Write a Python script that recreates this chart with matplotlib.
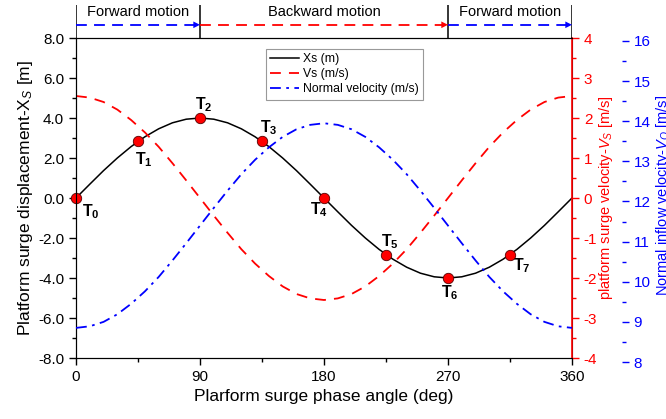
import numpy as np
import matplotlib.pyplot as plt

plt.rcParams['font.family'] = ['Liberation Sans', 'DejaVu Sans']
plt.rcParams['mathtext.fontset'] = 'custom'
plt.rcParams['mathtext.rm'] = 'Liberation Sans'
plt.rcParams['mathtext.it'] = 'Liberation Sans:italic'
plt.rcParams['mathtext.bf'] = 'Liberation Sans:bold'
plt.rcParams['axes.unicode_minus'] = False

# phase angle (deg), every 10 deg over one surge cycle
phase = list(range(0, 361, 10))

# platform surge displacement Xs (m)
xs = [0.00, 0.69, 1.37, 2.00, 2.57, 3.06, 3.46, 3.76, 3.94, 4.00,
      3.94, 3.76, 3.46, 3.06, 2.57, 2.00, 1.37, 0.69, 0.00,
      -0.69, -1.37, -2.00, -2.57, -3.06, -3.46, -3.76, -3.94, -4.00,
      -3.94, -3.76, -3.46, -3.06, -2.57, -2.00, -1.37, -0.69, 0.00]

# platform surge velocity Vs (m/s)
vs = [2.55, 2.51, 2.40, 2.21, 1.95, 1.64, 1.28, 0.87, 0.44, 0.00,
      -0.44, -0.87, -1.28, -1.64, -1.95, -2.21, -2.40, -2.51, -2.55,
      -2.51, -2.40, -2.21, -1.95, -1.64, -1.28, -0.87, -0.44, 0.00,
      0.44, 0.87, 1.28, 1.64, 1.95, 2.21, 2.40, 2.51, 2.55]

# normal inflow velocity (m/s)
vn = [8.85, 8.89, 9.00, 9.19, 9.45, 9.76, 10.12, 10.53, 10.96, 11.40,
      11.84, 12.27, 12.68, 13.04, 13.35, 13.61, 13.80, 13.91, 13.95,
      13.91, 13.80, 13.61, 13.35, 13.04, 12.68, 12.27, 11.84, 11.40,
      10.96, 10.53, 10.12, 9.76, 9.45, 9.19, 9.00, 8.89, 8.85]

# instants T0..T7
t_phase = [0, 45, 90, 135, 180, 225, 270, 315]
t_xs = [0.00, 2.83, 4.00, 2.83, 0.00, -2.83, -4.00, -2.83]
t_names = ['T_0', 'T_1', 'T_2', 'T_3', 'T_4', 'T_5', 'T_6', 'T_7']
t_offsets = [(15, -14), (6, -18), (4, 13), (7, 14), (-5, -12), (4, 13), (2, -15), (12, -11)]

RED = '#ff0000'
BLUE = '#0000ff'

fig = plt.figure(figsize=(6.66, 4.19), dpi=100)
L, W = 76 / 666, 496 / 666
ax = fig.add_axes([L, 61 / 419, W, 320 / 419])

line_x, = ax.plot(phase, xs, color='black', lw=1.1, label='Xs (m)')
ax.plot(t_phase, t_xs, 'o', color=RED, mec='#550000', mew=0.6, ms=7.5, zorder=5, clip_on=False)
for p, v, name, (dx, dy) in zip(t_phase, t_xs, t_names, t_offsets):
    ax.annotate(r'$\mathbf{%s}$' % name, (p, v), xytext=(dx, dy), textcoords='offset pixels',
                ha='center', va='center', fontsize=11.5)

ax.set_xlim(0, 360)
ax.set_ylim(-8, 8)
ax.set_xticks([0, 90, 180, 270, 360])
ax.set_xticks([45, 135, 225, 315], minor=True)
ax.set_yticks(np.arange(-8, 8.1, 2))
ax.set_yticks(np.arange(-7, 8, 2), minor=True)
ax.yaxis.set_major_formatter(plt.FormatStrFormatter('%.1f'))
ax.tick_params(which='both', direction='out', labelsize=11, width=1)
ax.tick_params(which='major', length=5)
ax.tick_params(which='minor', length=3)
ax.set_xlabel('Plarform surge phase angle (deg)', fontsize=12.5, labelpad=4)
ax.set_ylabel('Platform surge displacement-X$_S$ [m]', fontsize=12.5, labelpad=2)

# surge velocity on a red right axis
ax2 = ax.twinx()
line_v, = ax2.plot(phase, vs, color=RED, lw=1.3, dashes=(6, 4.5), label='Vs (m/s)')
ax2.set_ylim(-4, 4)
ax2.set_yticks(np.arange(-4, 5, 1))
ax2.set_yticks(np.arange(-3.5, 4, 1), minor=True)
ax2.spines['right'].set_color(RED)
ax2.spines['right'].set_linewidth(1.2)
ax2.tick_params(axis='y', which='both', colors=RED, direction='out', labelsize=11, width=1)
ax2.tick_params(axis='y', which='major', length=5)
ax2.tick_params(axis='y', which='minor', length=3)
ax2.set_ylabel('platform surge velocity-$V_S$ [m/s]', color=RED, fontsize=10.5, labelpad=0)

# normal inflow velocity on an offset blue axis
ax3 = fig.add_axes([L, 57 / 419, W, 321 / 419], frameon=False)
line_n, = ax3.plot(phase, vn, color=BLUE, lw=1.3, dashes=(6, 3, 1.5, 3), label='Normal velocity (m/s)')
ax3.set_xlim(0, 360)
ax3.set_ylim(8, 16)
ax3.xaxis.set_visible(False)
ax3.yaxis.tick_right()
ax3.yaxis.set_label_position('right')
ax3.spines['right'].set_visible(True)
ax3.spines['right'].set_position(('axes', 1.1))
ax3.spines['right'].set_color(BLUE)
ax3.spines['right'].set_linewidth(1.2)
ax3.set_yticks(np.arange(8, 17, 1))
ax3.set_yticks(np.arange(8.5, 16, 1), minor=True)
ax3.tick_params(axis='y', which='both', colors=BLUE, direction='out', labelsize=11, width=1)
ax3.tick_params(axis='y', which='major', length=5)
ax3.tick_params(axis='y', which='minor', length=3)
ax3.set_ylabel('Normal inflow velocity-$V_O$ [m/s]', color=BLUE, fontsize=10.5, labelpad=2)
ax3.yaxis.set_label_coords(1.166, 0.52)

leg = ax.legend(handles=[line_x, line_v, line_n], loc='upper left', bbox_to_anchor=(0.37, 0.985),
                fontsize=8.8, fancybox=False, edgecolor='#999999', framealpha=1,
                handlelength=2.4, handletextpad=0.3, labelspacing=0.25, borderpad=0.35)
leg.get_frame().set_linewidth(0.8)
leg.set_zorder(10)

# motion direction strip above the plot
top = fig.add_axes([L, 381 / 419, W, 33 / 419])
top.set_xlim(0, 360)
top.set_ylim(0, 1)
top.axis('off')
top.vlines([0, 90, 270, 360], 0, 1, color='black', lw=1.1)
segments = [(0, 90, BLUE, 'Forward motion'), (90, 270, RED, 'Backward motion'),
            (270, 360, BLUE, 'Forward motion')]
for x0, x1, c, txt in segments:
    top.plot([x0, x1 - 3], [0.4, 0.4], color=c, lw=1.3, dashes=(6, 4))
    top.annotate('', xy=(x1, 0.4), xytext=(x1 - 5, 0.4),
                 arrowprops=dict(arrowstyle='-|>', color=c, lw=0, mutation_scale=12,
                                 shrinkA=0, shrinkB=0))
    top.text((x0 + x1) / 2, 0.8, txt, ha='center', va='center', fontsize=10.5)

fig.savefig('out.png', dpi=100)
